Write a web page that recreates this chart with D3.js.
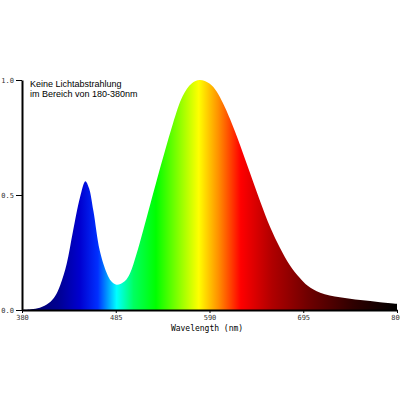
<!DOCTYPE html>
<html>
<head>
<meta charset="utf-8">
<script src="https://cdn.jsdelivr.net/npm/d3@7"></script>
<style>
body { margin: 0; background: #fff; }
</style>
</head>
<body>
<script>
const w = 400;
const h = 400;

// spectrum (nm, relative intensity)
const wavelengths = [380, 390, 400, 410, 417, 423, 430, 437, 445, 451, 455, 460, 467, 475, 480, 486, 495, 501, 508, 516, 531, 540, 549, 560, 570, 579, 590, 598, 605, 613, 624, 635, 647, 658, 669, 680, 691, 700, 714, 736, 759, 781, 800];
const intensity   = [0, 0.003, 0.01, 0.03, 0.06, 0.11, 0.2, 0.34, 0.49, 0.56, 0.53, 0.43, 0.26, 0.16, 0.125, 0.11, 0.125, 0.16, 0.24, 0.35, 0.565, 0.69, 0.81, 0.93, 0.985, 1.0, 0.985, 0.95, 0.9, 0.83, 0.72, 0.6, 0.47, 0.36, 0.27, 0.195, 0.14, 0.105, 0.075, 0.055, 0.043, 0.034, 0.027];

const xTicks = [380, 485, 590, 695, 800];
const yTicks = [0, 0.5, 1.0];

// colour of the light along the axis
const stopNm  = [380, 420, 445, 465, 486, 505, 530, 560, 578, 600, 625, 660, 700, 750, 800];
const stopCol = ['#000060', '#000090', '#0000d0', '#0030ff', '#00ffff', '#00ff60', '#00ff00', '#a0ff00', '#ffff00', '#ff9000', '#ff0000', '#b00000', '#700000', '#300000', '#000000'];

const data = wavelengths.map((d, i) => ({nm: d, v: intensity[i]}));

const svg = d3.select('body').append('svg').attr('width', w).attr('height', h);

const x = d3.scaleLinear().domain([380, 800]).range([22, 397]);
const y = d3.scaleLinear().domain([0, 1]).range([310, 80]);

const grad = svg.append('defs').append('linearGradient')
  .attr('id', 'spec')
  .attr('gradientUnits', 'userSpaceOnUse')
  .attr('x1', x(380)).attr('x2', x(800)).attr('y1', 0).attr('y2', 0);
grad.selectAll('stop').data(stopNm).enter().append('stop')
  .attr('offset', d => (d - 380) / 420)
  .attr('stop-color', (d, i) => stopCol[i]);

const area = d3.area()
  .x(d => x(d.nm))
  .y0(y(0))
  .y1(d => y(d.v))
  .curve(d3.curveCatmullRom);

svg.append('path').datum(data).attr('d', area).attr('fill', 'url(#spec)');

// axes
const bottom = d3.axisBottom(x).tickValues(xTicks).tickSize(3).tickSizeOuter(0).tickFormat(d3.format('d'));
const gx = svg.append('g').attr('transform', 'translate(0,' + y(0) + ')').call(bottom);
gx.select('.domain').attr('stroke-width', 2);
gx.selectAll('text').attr('font-family', 'DejaVu Sans Mono').attr('font-size', 7).attr('fill', '#333').attr('dy', '0.6em');

const left = d3.axisLeft(y).tickValues(yTicks).tickSize(6).tickSizeOuter(0).tickFormat(d3.format('.1f'));
const gy = svg.append('g').attr('transform', 'translate(' + x(380) + ',0)').call(left);
gy.select('.domain').attr('stroke-width', 2);
gy.selectAll('text').attr('font-family', 'DejaVu Sans Mono').attr('font-size', 7).attr('fill', '#333').attr('x', -8);

svg.append('text')
  .attr('x', 207).attr('y', 331)
  .attr('text-anchor', 'middle')
  .style('font-family', 'DejaVu Sans Mono').style('font-size', '8px')
  .text('Wavelength (nm)');

svg.append('text').attr('x', 30).attr('y', 87)
  .style('font-family', 'Liberation Sans').style('font-size', '9px')
  .text('Keine Lichtabstrahlung');
svg.append('text').attr('x', 30).attr('y', 97)
  .style('font-family', 'Liberation Sans').style('font-size', '9px')
  .text('im Bereich von 180-380nm');
</script>
</body>
</html>
